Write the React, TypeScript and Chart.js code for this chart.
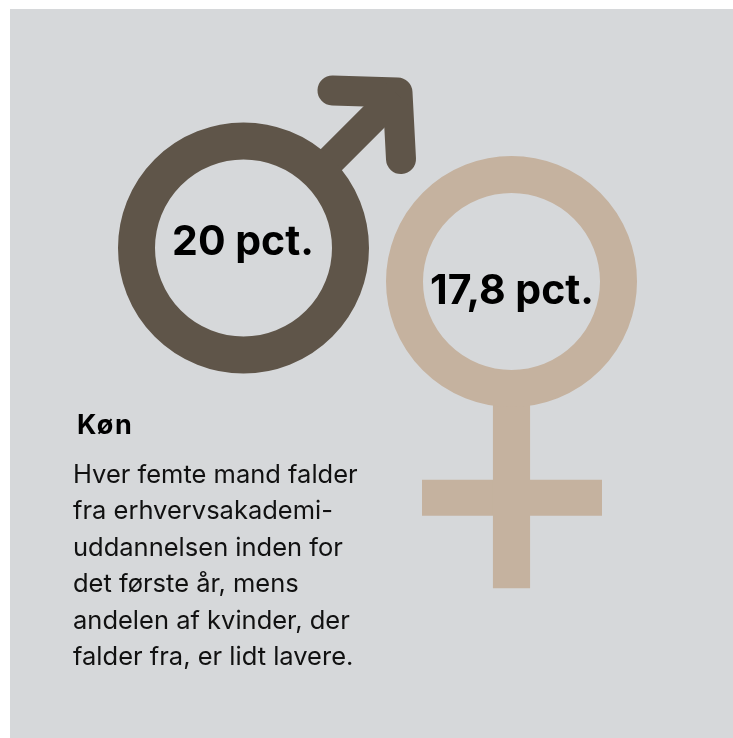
import React, { useEffect, useRef } from "react";
import { Chart, registerables } from "chart.js";

Chart.register(...registerables);

const groups = ["Mænd", "Kvinder"];
const dropoutPct = [20, 17.8];
const ringCentreX = [243.5, 511.5];
const ringCentreY = [248, 281.5];
const ringRadius = [107, 107];
const labelX = [243, 512];
const labelY = [254.5, 304];

const maleArrowX = [332.5, 397.5, 401];
const maleArrowY = [90.5, 92.5, 159];
const maleShaftX = [310, 397];
const maleShaftY = [181, 94];
const femaleStemX = [511.5];
const femaleStemY = [400, 588];
const femaleBarX = [422, 602];
const femaleBarY = [497.7, 497.7];

const heading = "Køn";
const bodyLines = [
  "Hver femte mand falder",
  "fra erhvervsakademi-",
  "uddannelsen inden for",
  "det første år, mens",
  "andelen af kvinder, der",
  "falder fra, er lidt lavere.",
];

const BROWN = "#5f5549";
const TAN = "#c5b29f";
const GREY = "#d6d8da";
const FONT = 'Inter, "Liberation Sans", Arial, sans-serif';

const pts = (xs: number[], ys: number[]) => xs.map((x, i) => ({ x, y: ys[i] }));
const pctLabel = (v: number) => `${String(v).replace(".", ",")} pct.`;

const lineSet = (label: string, xs: number[], ys: number[], color: string, width: number, cap: CanvasLineCap) => ({
  type: "line" as const,
  label,
  data: pts(xs, ys),
  borderColor: color,
  backgroundColor: color,
  borderWidth: width,
  borderCapStyle: cap,
  borderJoinStyle: "round" as const,
  pointRadius: 0,
  tension: 0,
  fill: false,
});

const valueLabels = {
  id: "valueLabels",
  afterDatasetsDraw(chart: any) {
    const { ctx, scales } = chart;
    ctx.save();
    ctx.fillStyle = "#000";
    ctx.font = `bold 41px ${FONT}`;
    ctx.textAlign = "center";
    ctx.textBaseline = "alphabetic";
    dropoutPct.forEach((v, i) => {
      ctx.fillText(pctLabel(v), scales.x.getPixelForValue(labelX[i]), scales.y.getPixelForValue(labelY[i]));
    });
    ctx.restore();
  },
};

export default function App() {
  const ref = useRef<HTMLCanvasElement>(null);
  useEffect(() => {
    document.body.style.margin = "0";
    const chart = new Chart(ref.current!, {
      type: "bubble",
      data: {
        datasets: [
          ...groups.map((g, i) => ({
            type: "bubble" as const,
            label: g,
            data: [{ x: ringCentreX[i], y: ringCentreY[i], r: ringRadius[i] }],
            backgroundColor: "rgba(0,0,0,0)",
            borderColor: i === 0 ? BROWN : TAN,
            borderWidth: 37,
            clip: false,
          })),
          lineSet("shaft", maleShaftX, maleShaftY, BROWN, 30, "butt"),
          lineSet("arrow", maleArrowX, maleArrowY, BROWN, 30, "round"),
          {
            type: "bar" as const,
            label: "stem",
            data: [{ x: femaleStemX[0], y: femaleStemY }],
            backgroundColor: TAN,
            borderWidth: 0,
            barThickness: 36.5,
          },
          lineSet("bar", femaleBarX, femaleBarY, TAN, 36, "butt"),
        ] as any,
      },
      options: {
        animation: false,
        responsive: false,
        layout: { padding: 0, autoPadding: false },
        events: [],
        scales: {
          x: { type: "linear", min: 0, max: 733, display: false, offset: false },
          y: { type: "linear", min: 0, max: 738, reverse: true, display: false },
        },
        plugins: { legend: { display: false }, tooltip: { enabled: false }, title: { display: false } },
      },
      plugins: [valueLabels],
    } as any);
    return () => chart.destroy();
  }, []);

  return (
    <div style={{ position: "absolute", left: 0, top: 0, width: 733, height: 738, overflow: "hidden", background: "#fff", fontFamily: FONT }}>
      <div style={{ position: "absolute", left: 10, top: 9, width: 723, height: 729, background: GREY }} />
      <canvas ref={ref} width={733} height={738} style={{ position: "absolute", left: 0, top: 0, display: "block" }} />
      <div style={{ position: "absolute", left: 77, top: 410, fontSize: 27, fontWeight: 700, letterSpacing: 1.5, lineHeight: "30px", color: "#000", whiteSpace: "nowrap" }}>{heading}</div>
      <div style={{ position: "absolute", left: 73, top: 456, fontSize: 25.5, lineHeight: "36.4px", color: "#111", whiteSpace: "nowrap" }}>
        {bodyLines.map((l) => (
          <div key={l}>{l}</div>
        ))}
      </div>
    </div>
  );
}
